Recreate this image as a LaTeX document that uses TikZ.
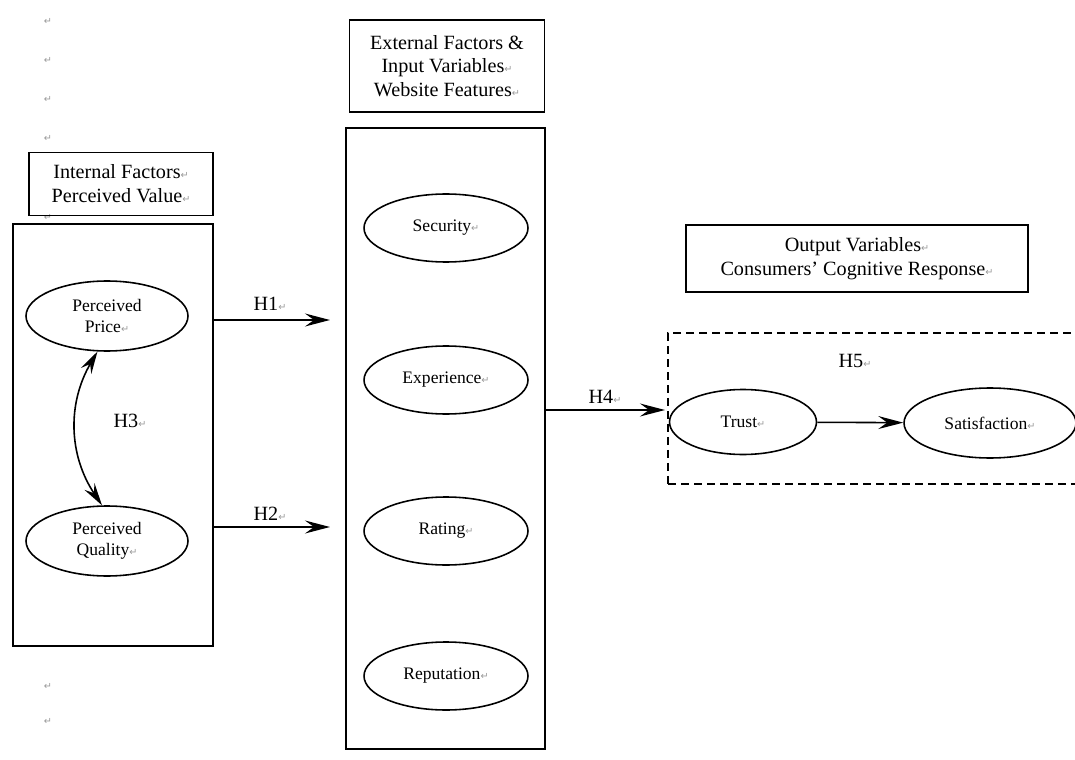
\documentclass[tikz,border=0pt]{standalone}
\usepackage{fontspec}
\setmainfont{Liberation Serif}
\newfontfamily\markfont{DejaVu Sans}
\usetikzlibrary{arrows.meta,shapes.geometric}
\newcommand{\retmark}{{\markfont\fontsize{5.5}{5.5}\selectfont\textcolor{gray!80}{↵}}}

\begin{document}
\begin{tikzpicture}[x=0.02cm, y=-0.02cm, thick,
    head/.style = {draw, line width=1pt, align=center, font=\fontsize{11.5}{13.5}\selectfont},
    frame/.style = {draw, line width=1pt},
    main/.style = {draw, ellipse, line width=0.9pt, align=center, inner sep=0pt, font=\fontsize{10}{12}\selectfont},
    hyp/.style = {font=\fontsize{11.5}{13.5}\selectfont},
    arr/.style = {-{Stealth[length=5mm, width=2.6mm, inset=1.8mm]}, line width=0.9pt}]
        \useasboundingbox (0,0) rectangle (1075,760);
        % stray paragraph marks
        \foreach \y in {21,60,99,138,217,686,721} \node at (48,\y) {\retmark};
        % internal factors
        \node[head, minimum width=3.68cm, minimum height=1.26cm] (inhead) at (121,184) {Internal Factors\retmark\\Perceived Value\retmark};
        \node[frame, minimum width=4cm, minimum height=8.44cm] (left) at (113,435) {};
        \node[main, minimum width=3.24cm, minimum height=1.4cm] (price) at (107,316) {Perceived\\Price\retmark};
        \node[main, minimum width=3.24cm, minimum height=1.4cm] (quality) at (107,541) {Perceived\\Quality\retmark};
        \node[hyp] (h3) at (130,421) {H3\retmark};
        \draw[{Stealth[length=4.5mm, width=2.4mm, inset=1.6mm]}-{Stealth[length=4.5mm, width=2.4mm, inset=1.6mm]}, line width=0.9pt] (price.255) to[bend right=32] (quality.98);
        % external factors
        \node[head, minimum width=3.9cm, minimum height=1.84cm] (exhead) at (447,66) {External Factors \&\\Input Variables\retmark\\Website Features\retmark};
        \node[frame, minimum width=3.98cm, minimum height=12.42cm] (mid) at (445.5,438.5) {};
        \node[main, minimum width=3.28cm, minimum height=1.36cm] (sec) at (446,228) {Security\retmark};
        \node[main, minimum width=3.28cm, minimum height=1.36cm] (exp) at (446,380) {Experience\retmark};
        \node[main, minimum width=3.28cm, minimum height=1.36cm] (rat) at (446,531) {Rating\retmark};
        \node[main, minimum width=3.28cm, minimum height=1.36cm] (rep) at (446,676) {Reputation\retmark};
        % hypotheses H1, H2
        \coordinate (h1e) at (330,320);
        \coordinate (h2e) at (330,527);
        \draw[arr] (left.east |- h1e) -- (h1e);
        \draw[arr] (left.east |- h2e) -- (h2e);
        \node[hyp] (h1) at (270,304) {H1\retmark};
        \node[hyp] (h2) at (270,514) {H2\retmark};
        % output variables
        \node[head, minimum width=6.84cm, minimum height=1.34cm] (outhead) at (857,258.5) {Output Variables\retmark\\Consumers’ Cognitive Response\retmark};
        \node[draw, dashed, dash pattern=on 1.6mm off 1mm, line width=0.9pt, minimum width=8.24cm, minimum height=3.02cm] (group) at (874,408.5) {};
        \node[hyp] (h5) at (855,361) {H5\retmark};
        \node[main, minimum width=2.94cm, minimum height=1.3cm] (trust) at (743,422) {Trust\retmark};
        \node[main, minimum width=3.44cm, minimum height=1.4cm] (sat) at (990,423) {Satisfaction\retmark};
        \coordinate (h4e) at (665,410);
        \draw[arr] (mid.east |- h4e) -- (h4e);
        \node[hyp] (h4) at (605,397) {H4\retmark};
        \draw[arr] (trust) -- (sat);
\end{tikzpicture}
\end{document}
